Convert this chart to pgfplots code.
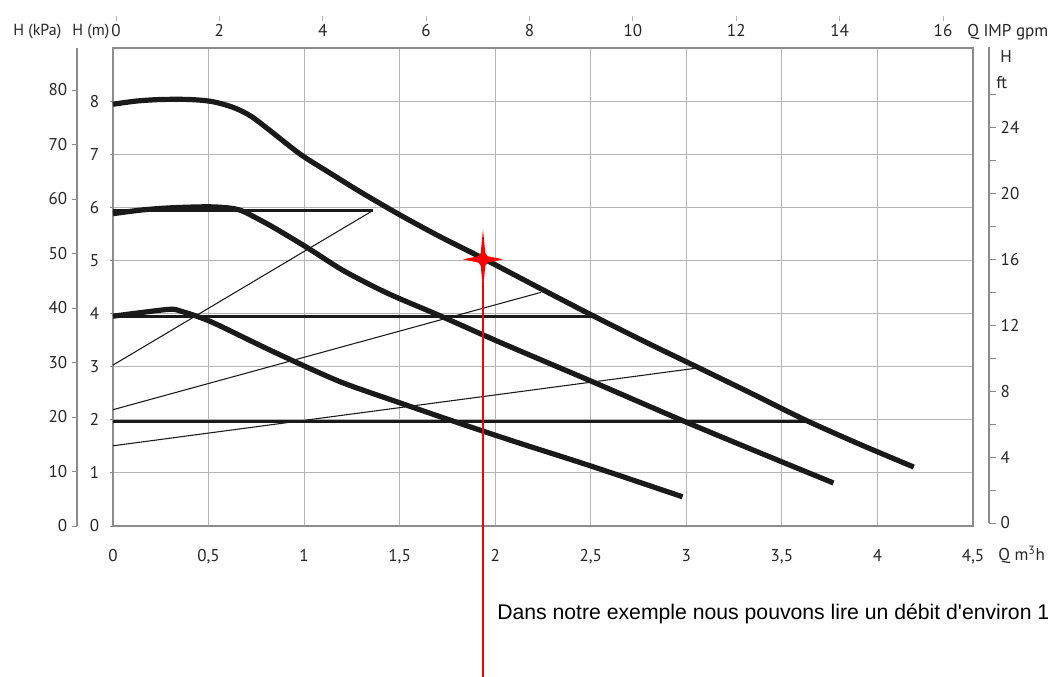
\documentclass[border=0pt]{standalone}
\usepackage{fontspec}
\setmainfont{PT Sans}
\newfontfamily\arialf{Liberation Sans}
\usepackage{pgfplots}
\pgfplotsset{compat=1.18}
\definecolor{curve}{HTML}{1A1A1A}
\definecolor{gridc}{HTML}{B4B4B4}
\definecolor{axc}{HTML}{8C8C8C}
\begin{document}
\begin{tikzpicture}
\path[use as bounding box] (0,0) rectangle (794.25pt,507.75pt);
\pgfplotsset{every axis/.append style={/pgf/number format/assume math mode=true,
  tick label style={font=\fontsize{12.8}{14}\selectfont, text=black!85}}}
% main axis (Q m3/h, H m)
\begin{axis}[at={(84.75pt,113.25pt)}, anchor=south west, scale only axis,
  width=645pt, height=358.5pt,
  xmin=0, xmax=4.5, ymin=0, ymax=9,
  xtick={0,0.5,...,4.5},
  xticklabels={0,{0,5},1,{1,5},2,{2,5},3,{3,5},4,{4,5}},
  ytick={0,1,...,8},
  grid=major, grid style={gridc, line width=0.7pt},
  axis line style={axc, line width=0.8pt},
  xtick style={draw=none}, ytick style={axc, line width=0.6pt},
  ytick pos=left, tick align=outside, major tick length=2.25pt,
  yticklabel style={xshift=-4.5pt},
  xticklabel style={yshift=-12pt},
  clip=false]
% system / constant lines
\addplot[curve, line width=2pt] coordinates {(0,5.94) (1.36,5.94)};
\addplot[curve, line width=2pt] coordinates {(0,3.95) (2.5,3.95)};
\addplot[curve, line width=2pt] coordinates {(0,1.97) (3.62,1.97)};
\addplot[curve, line width=0.8pt] coordinates {(0,3.03) (1.36,5.94)};
\addplot[curve, line width=0.8pt] coordinates {(0,2.19) (2.24,4.40)};
\addplot[curve, line width=0.8pt] coordinates {(0,1.51) (3.07,2.98)};
% pump curves
\addplot[curve, line width=3.9pt, smooth] coordinates {
(0,7.94) (0.12,8.00) (0.25,8.03) (0.40,8.03) (0.52,7.99) (0.63,7.88) (0.72,7.72)
(0.82,7.45) (0.98,7.00) (1.12,6.68) (1.29,6.30) (1.50,5.86) (1.71,5.45) (1.93,5.05)
(2.20,4.54) (2.50,3.98) (2.80,3.44) (3.07,2.97) (3.35,2.48) (3.62,2.00) (3.90,1.55) (4.19,1.11)};
\addplot[curve, line width=3.9pt, smooth] coordinates {
(0,5.88) (0.15,5.95) (0.30,5.99) (0.49,6.01) (0.60,5.99) (0.67,5.94) (0.76,5.78)
(0.86,5.58) (1.03,5.21) (1.20,4.82) (1.38,4.48) (1.50,4.28) (1.71,3.96) (2.03,3.45)
(2.50,2.73) (2.97,2.00) (3.37,1.40) (3.77,0.81)};
\addplot[curve, line width=3.9pt, smooth] coordinates {
(0,3.95) (0.15,4.02) (0.30,4.08) (0.36,4.04) (0.51,3.85) (0.77,3.40) (0.96,3.08)
(1.20,2.70) (1.50,2.32) (1.80,1.95) (2.11,1.58) (2.50,1.13) (2.98,0.55)};
% red marker line and star
\addplot[red, line width=1.2pt] coordinates {(1.936,4.6) (1.936,-2.85)};
\addplot[red, fill=red, draw=none] coordinates {
(1.936,5.586) (1.948,5.14) (1.960,5.08) (2.041,5.02) (1.960,4.96) (1.948,4.90)
(1.936,4.454) (1.924,4.90) (1.912,4.96) (1.831,5.02) (1.912,5.08) (1.924,5.14)} -- cycle;
\end{axis}
% top IMP gpm axis
\begin{axis}[at={(84.75pt,491.25pt)}, anchor=south west, scale only axis,
  width=645pt, height=4.5pt, xmin=-0.058, xmax=16.58, ymin=0, ymax=1,
  axis line style={draw=none}, ytick=\empty,
  xtick={0,2,...,16}, xtick pos=upper, xticklabel pos=lower,
  tick align=inside, major tick length=4pt,
  xtick style={gridc, line width=0.6pt},
  xticklabel style={yshift=2pt}]
\addplot[draw=none] coordinates {(0,0) (16,1)};
\end{axis}
% left kPa axis
\begin{axis}[at={(57.75pt,113.25pt)}, anchor=south west, scale only axis,
  width=1pt, height=358.5pt, xmin=0, xmax=1, ymin=0, ymax=87.7,
  axis y line=left, axis x line=none, xtick=\empty,
  ytick={0,10,...,80}, tick align=outside, major tick length=3.75pt,
  axis line style={axc, line width=0.8pt, -}, ytick style={axc, line width=0.6pt}]
\addplot[draw=none] coordinates {(0,0) (1,1)};
\end{axis}
% right ft axis
\begin{axis}[at={(741.75pt,115.5pt)}, anchor=south east, scale only axis,
  width=1pt, height=357pt, xmin=0, xmax=1, ymin=0, ymax=28.9,
  axis y line=right, axis x line=none, xtick=\empty,
  ytick={0,4,...,24}, minor ytick={2,6,...,26},
  tick align=outside, major tick length=5.25pt, minor tick length=5.25pt,
  axis line style={axc, line width=0.8pt, -}, ytick style={axc, line width=0.6pt},
  minor tick style={axc, line width=0.6pt}]
\addplot[draw=none] coordinates {(0,0) (1,1)};
\end{axis}
% axis titles
\node[anchor=west, font=\fontsize{12}{14}\selectfont, text=black!85, inner sep=0pt] at (9.75pt,483.75pt) {H (kPa)};
\node[anchor=west, font=\fontsize{12}{14}\selectfont, text=black!85, inner sep=0pt] at (54pt,483.75pt) {H (m)};
\node[anchor=west, font=\fontsize{12.8}{14}\selectfont, text=black!85, inner sep=0pt] at (725.25pt,483.75pt) {Q IMP gpm};
\node[anchor=west, font=\fontsize{12.8}{14}\selectfont, text=black!85, inner sep=0pt] at (750pt,465pt) {H};
\node[anchor=west, font=\fontsize{12.8}{14}\selectfont, text=black!85, inner sep=0pt] at (747pt,445.5pt) {ft};
\node[anchor=west, font=\fontsize{12.8}{14}\selectfont, text=black!85, inner sep=0pt] at (748.5pt,91.5pt) {Q m\textsuperscript{3}h};
\node[anchor=west, font=\arialf\fontsize{15.9}{18}\selectfont, inner sep=0pt] at (372.75pt,47.25pt) {Dans notre exemple nous pouvons lire un débit d'environ 1};
\end{tikzpicture}
\end{document}
